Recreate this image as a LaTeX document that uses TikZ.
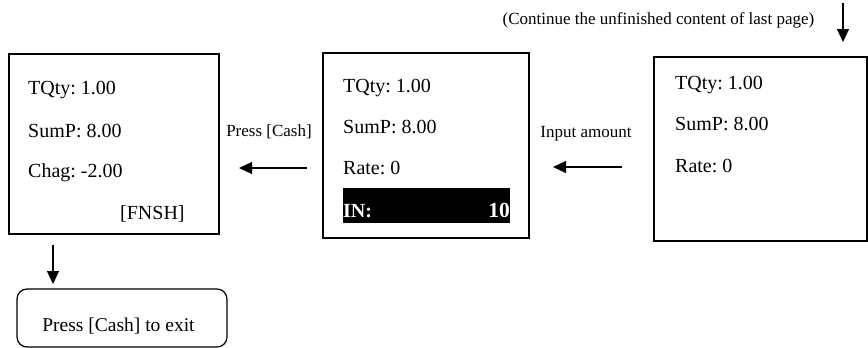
\documentclass[tikz,border=0pt]{standalone}
\usepackage{fontspec}
\setmainfont{Liberation Serif}
\usetikzlibrary{arrows.meta}
\begin{document}
\frenchspacing
\begin{tikzpicture}[x=1pt,y=-1pt,
  screen/.style={draw, line width=1.2pt, inner sep=0pt},
  boxtxt/.style={anchor=base west, inner sep=0pt, font=\fontsize{20}{22}\selectfont},
  lbl/.style={anchor=base, inner sep=0pt, font=\fontsize{17}{20}\selectfont},
  flow/.style={line width=1.2pt, -{Triangle[length=13pt,width=12pt]}}]
\useasboundingbox (0,0) rectangle (868,348);
% boxes
\node[screen, minimum width=210pt, minimum height=180pt] (b1) at (114,144) {};
\node[screen, minimum width=206pt, minimum height=185pt] (b2) at (426,145.5) {};
\node[screen, minimum width=213pt, minimum height=184pt] (b3) at (760.5,149) {};
\node[screen, rounded corners=10pt, minimum width=210pt, minimum height=58pt] (ex) at (122,318) {};
% box 1 text
\node[boxtxt] (t11) at (28,94) {TQty: 1.00};
\node[boxtxt] (t12) at (28,137) {SumP: 8.00};
\node[boxtxt] (t13) at (28,177) {Chag: -2.00};
\node[boxtxt] (t14) at (120,219) {[FNSH]};
% box 2 text
\node[boxtxt] (t21) at (343,92) {TQty: 1.00};
\node[boxtxt] (t22) at (343,133) {SumP: 8.00};
\node[boxtxt] (t23) at (343,174) {Rate: 0};
\node[fill=black, inner sep=0pt, minimum width=167pt, minimum height=35pt] (bar) at (426.5,205.5) {};
\node[boxtxt, text=white, font=\fontsize{20}{22}\selectfont\bfseries] (in) at (343,217) {IN:};
\node[boxtxt, anchor=base east, text=white, font=\fontsize{21.5}{22}\selectfont\bfseries] (ten) at (510,217) {10};
% box 3 text
\node[boxtxt] (t31) at (675,89) {TQty: 1.00};
\node[boxtxt] (t32) at (675,130) {SumP: 8.00};
\node[boxtxt] (t33) at (675,172) {Rate: 0};
% labels
\node[lbl] (l1) at (269,136) {Press [Cash]};
\node[lbl] (l2) at (586,137) {Input amount};
\node[lbl] (top) at (658.5,24) {(Continue the unfinished content of last page)};
\node[lbl, font=\fontsize{19.5}{22}\selectfont] (ext) at (118.5,331) {Press [Cash] to exit};
% arrows
\coordinate (a1s) at (307,168);
\coordinate (a1e) at (239,168);
\coordinate (a2s) at (622,167);
\coordinate (a2e) at (553,167);
\coordinate (a3s) at (843,3);
\coordinate (a3e) at (843,42);
\coordinate (a4s) at (53,245);
\coordinate (a4e) at (53,284);
\draw[flow] (a1s) -- (a1e);
\draw[flow] (a2s) -- (a2e);
\draw[flow] (a3s) -- (a3e);
\draw[flow] (a4s) -- (a4e);
\end{tikzpicture}
\end{document}
